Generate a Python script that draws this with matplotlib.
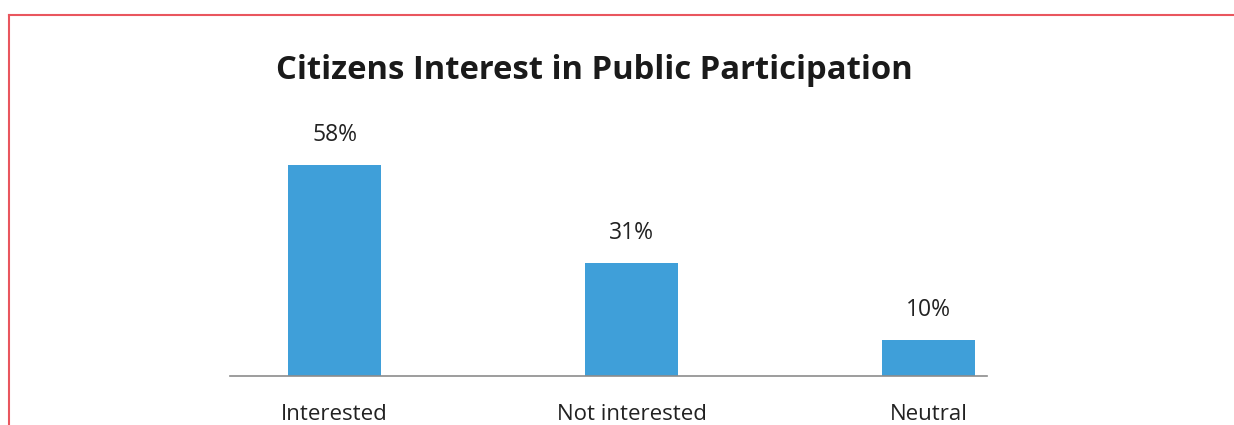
import numpy as np
import matplotlib.pyplot as plt
from matplotlib.lines import Line2D

# datos del grafico
categorias = ["Interested", "Not interested", "Neutral"]
porcentajes = [58, 31, 10]
etiquetas = ["58%", "31%", "10%"]

plt.rcParams['font.family'] = ['Open Sans', 'DejaVu Sans']

fig = plt.figure(figsize=(12.34, 4.25), dpi=100)
ax = fig.add_axes([0.1864, 0.1153, 0.6134, 0.6494])

x = np.arange(len(categorias))
barras = ax.bar(x, porcentajes, width=0.313, color="#3F9FD9")

for b, txt in zip(barras, etiquetas):
    ax.annotate(txt, (b.get_x() + b.get_width() / 2, b.get_height()),
                xytext=(0, 13), textcoords="offset points",
                ha="center", va="bottom", fontsize=16.5, color="#222222")

ax.set_xlim(-0.352, 2.197)
ax.set_ylim(0, 76)
ax.set_xticks(x)
ax.set_xticklabels(categorias, fontsize=16, color="#222222")
ax.tick_params(axis="x", length=0, pad=20)
ax.set_yticks([])
for s in ["top", "right", "left"]:
    ax.spines[s].set_visible(False)
ax.spines["bottom"].set_color("#8C8C8C")
ax.spines["bottom"].set_linewidth(1.2)

fig.text(0.482, 0.835, "Citizens Interest in Public Participation",
         ha="center", va="center", fontsize=23.6, fontweight="bold", color="#1a1a1a")

# borde rojo
borde = "#E9565E"
fig.add_artist(Line2D([0.0073, 1.0], [0.9647, 0.9647], color=borde, lw=1.5,
                      transform=fig.transFigure))
fig.add_artist(Line2D([0.0073, 0.0073], [0.0, 0.9647], color=borde, lw=1.5,
                      transform=fig.transFigure))

fig.savefig("out.png", dpi=100)
